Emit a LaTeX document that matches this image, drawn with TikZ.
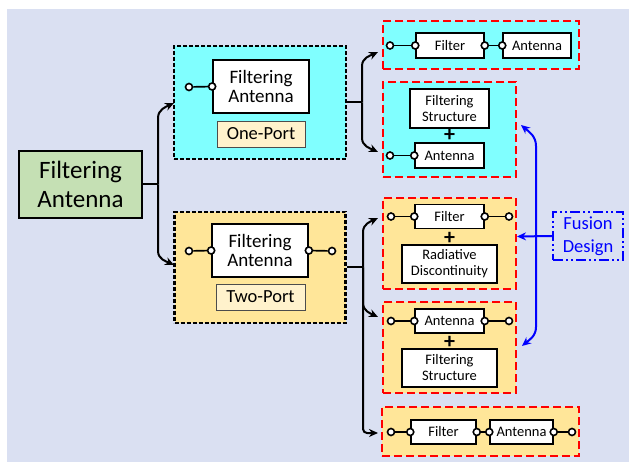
\documentclass[tikz,border=0pt]{standalone}
\usepackage{fontspec}
\setmainfont{Carlito}
\usetikzlibrary{arrows.meta}
\definecolor{bgc}{RGB}{218,224,242}
\definecolor{grn}{RGB}{197,224,180}
\definecolor{cyn}{RGB}{128,255,255}
\definecolor{ylw}{RGB}{255,230,153}
\definecolor{lyl}{RGB}{255,242,204}
\definecolor{fblue}{RGB}{0,0,255}
\begin{document}
\begin{tikzpicture}[x=1pt,y=-1pt,
  sz/.style 2 args={minimum width=#1pt,minimum height=#2pt,inner sep=0pt,align=center},
  mainbox/.style={draw,line width=1.6pt,fill=grn,font=\fontsize{25}{29}\selectfont},
  grpb/.style={draw,line width=2.6pt,dash pattern=on 4pt off 2pt},
  grpr/.style={draw=red,line width=2.2pt,dash pattern=on 8pt off 4pt},
  fabox/.style={draw,line width=1.7pt,fill=white,font=\fontsize{19}{19.5}\selectfont},
  lab/.style={draw=black!70,line width=0.8pt,fill=lyl,font=\fontsize{18.5}{20}\selectfont},
  wbox/.style={draw,line width=1.5pt,fill=white,font=\fontsize{14.5}{16}\selectfont},
  port/.style={circle,draw,fill=white,line width=1.6pt,inner sep=0pt,minimum size=7pt},
  wire/.style={line width=1.7pt},
  conn/.style={line width=2pt,-{Stealth[length=9pt,width=8pt]}},
  bconn/.style={line width=2pt,draw=fblue,-{Stealth[length=9pt,width=8pt]}},
  plus/.style={inner sep=0pt,font=\fontsize{22}{22}\selectfont\bfseries},
  fusion/.style={draw=fblue,text=fblue,line width=2.3pt,dash pattern=on 10pt off 3pt on 2pt off 3pt on 2pt off 3pt,font=\fontsize{18.5}{23}\selectfont}]
\useasboundingbox (0,0) rectangle (629,462);
\fill[bgc] (7,9) rectangle (629,462);

% main
\node[mainbox,sz={123}{67}] (main) at (80.5,184.5) {Filtering\\Antenna};

% one-port group
\node[grpb,fill=cyn,sz={172}{113}] (op) at (260,102.5) {};
\node[fabox,sz={96}{53}] (fa1) at (261,86.5) {Filtering\\Antenna};
\node[lab,sz={88}{26}] (opl) at (261,134) {One-Port};
\node[port] (op1) at (189,87) {};
\node[port] (op2) at (fa1.west) {};
\draw[wire] (op1) -- (op2);

% two-port group
\node[grpb,fill=ylw,sz={171}{111}] (tp) at (260,267.5) {};
\node[fabox,sz={96}{53}] (fa2) at (260,250.5) {Filtering\\Antenna};
\node[lab,sz={89}{26}] (tpl) at (260.5,297) {Two-Port};
\node[port] (tp1) at (189,251) {};
\node[port] (tp2) at (fa2.west) {};
\node[port] (tp3) at (fa2.east) {};
\node[port] (tp4) at (332,251) {};
\draw[wire] (tp1) -- (tp2);
\draw[wire] (tp3) -- (tp4);

% B1
\node[grpr,fill=cyn,sz={196}{48}] (b1) at (481,45) {};
\node[wbox,sz={68}{25}] (f1) at (450,45.5) {Filter};
\node[wbox,sz={68}{25}] (a1) at (537,45.5) {Antenna};
\node[port] (b1p0) at (390,45.5) {};
\node[port] (b1p1) at (f1.west) {};
\node[port] (b1p2) at (f1.east) {};
\node[port] (b1p3) at (a1.west) {};
\draw[wire] (b1p0) -- (b1p1);
\draw[wire] (b1p2) -- (b1p3);

% B2
\node[grpr,fill=cyn,sz={133}{95}] (b2) at (449.5,129.5) {};
\node[wbox,sz={79}{39}] (fs2) at (449.5,108.5) {Filtering\\Structure};
\node[plus] (pl2) at (449.5,135) {+};
\node[wbox,sz={69}{25}] (a2) at (449.5,155.5) {Antenna};
\node[port] (b2p0) at (390,155.5) {};
\node[port] (b2p1) at (a2.west) {};
\draw[wire] (b2p0) -- (b2p1);

% B3
\node[grpr,fill=ylw,sz={133}{91}] (b3) at (449.5,243.5) {};
\node[wbox,sz={69}{24}] (f3) at (449.5,216.5) {Filter};
\node[plus] (pl3) at (449.5,238) {+};
\node[wbox,sz={95}{38}] (rd3) at (449.5,264) {Radiative\\Discontinuity};
\node[port] (b3p0) at (391,216.5) {};
\node[port] (b3p1) at (f3.west) {};
\node[port] (b3p2) at (f3.east) {};
\node[port] (b3p3) at (509,216.5) {};
\draw[wire] (b3p0) -- (b3p1);
\draw[wire] (b3p2) -- (b3p3);

% B4
\node[grpr,fill=ylw,sz={133}{91}] (b4) at (449.5,347.5) {};
\node[wbox,sz={69}{24}] (a4) at (449.5,321) {Antenna};
\node[plus] (pl4) at (449.5,342) {+};
\node[wbox,sz={95}{38}] (fs4) at (449.5,368) {Filtering\\Structure};
\node[port] (b4p0) at (391,321) {};
\node[port] (b4p1) at (a4.west) {};
\node[port] (b4p2) at (a4.east) {};
\node[port] (b4p3) at (509,321) {};
\draw[wire] (b4p0) -- (b4p1);
\draw[wire] (b4p2) -- (b4p3);

% B5
\node[grpr,fill=ylw,sz={197}{49}] (b5) at (480.5,431.5) {};
\node[wbox,sz={65}{24}] (f5) at (443.5,432) {Filter};
\node[wbox,sz={63}{24}] (a5) at (521.5,432) {Antenna};
\node[port] (b5p0) at (391,432) {};
\node[port] (b5p1) at (f5.west) {};
\node[port] (b5p2) at (f5.east) {};
\node[port] (b5p3) at (a5.west) {};
\node[port] (b5p4) at (a5.east) {};
\node[port] (b5p5) at (572,432) {};
\draw[wire] (b5p0) -- (b5p1);
\draw[wire] (b5p2) -- (b5p3);
\draw[wire] (b5p4) -- (b5p5);

% fusion
\node[fusion,sz={70}{48}] (fd) at (588,236) {Fusion\\Design};

% connectors from main
\coordinate (m0) at (158,184.5);
\coordinate (mt) at (174,103);
\coordinate (mb) at (174,265);
\draw[wire,line width=2pt] (main.east) -- (m0);
\draw[conn] (m0) -- (158,118) to[out=90,in=205] (mt);
\draw[conn] (m0) -- (158,251) to[out=-90,in=155] (mb);

% connectors from one-port
\coordinate (o0) at (362,102.5);
\coordinate (ot) at (378,52);
\coordinate (ob) at (378,152);
\draw[wire,line width=2pt] (op.east) -- (o0);
\draw[conn] (o0) -- (362,66) to[out=90,in=205] (ot);
\draw[conn] (o0) -- (362,138) to[out=-90,in=155] (ob);

% connectors from two-port
\coordinate (t0) at (363,267.5);
\coordinate (tt) at (378,218);
\coordinate (tm) at (378,317);
\coordinate (tb) at (378,433);
\draw[wire,line width=2pt] (tp.east) -- (t0);
\draw[conn] (t0) -- (363,232) to[out=90,in=205] (tt);
\draw[conn] (t0) -- (363,303) to[out=-90,in=155] (tm);
\draw[conn,rounded corners=4pt] (t0) |- (tb);

% fusion connectors
\coordinate (f0) at (536,236.5);
\coordinate (ft) at (521,125);
\coordinate (fm) at (517,236.5);
\coordinate (fb) at (522,346);
\draw[bconn] (fd.west) -- (fm);
\draw[bconn] (f0) -- (536,146) to[out=90,in=-40] (ft);
\draw[bconn] (f0) -- (536,327) to[out=-90,in=40] (fb);
\end{tikzpicture}
\end{document}
